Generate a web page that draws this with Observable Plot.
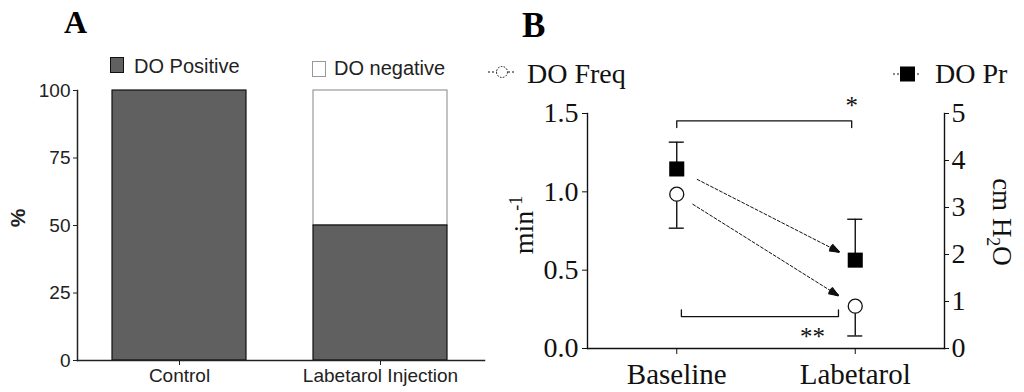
<!DOCTYPE html>
<html><head><meta charset="utf-8">
<script src="https://cdn.jsdelivr.net/npm/d3@7"></script>
<script src="https://cdn.jsdelivr.net/npm/@observablehq/plot@0.6"></script>
<style>
body{margin:0;background:#fff;}
#wrap{position:relative;width:1024px;height:392px;overflow:hidden;background:#fff;}
#wrap > *{position:absolute;top:0;}
</style></head><body><div id="wrap"></div>
<script>
// ---------- Panel A data ----------
const categoriesA = ["Control", "Labetarol Injection"];
const positivePct = [100, 50];
const negativePct = [0, 50];
const ticksA = [0, 25, 50, 75, 100];

// ---------- Panel B data ----------
const categoriesB = ["Baseline", "Labetarol"];
const freqMean = [0.985, 0.27];   // min^-1 (left axis)
const freqSem  = [0.217, 0.19];
const prMean   = [3.82, 1.88];    // cm H2O (right axis)
const prSem    = [0.57, 0.87];
const ticksFreq = [0, 0.5, 1.0, 1.5];
const ticksPr   = [0, 1, 2, 3, 4, 5];
// significance annotations (x in category index, y in min^-1 units)
const bracketTopPts = [[0, 1.41], [0, 1.453], [0.98, 1.453], [0.98, 1.41]];
const bracketBotPts = [[0.026, 0.247], [0.026, 0.204], [0.906, 0.204], [0.906, 0.247]];
const starLabels = [{x: 0.98, y: 1.581, t: "*"}, {x: 0.76, y: 0.107, t: "**"}];

const wrap = document.getElementById("wrap");
const ink = "#111";

// ---------- Panel A ----------
const rowsA = categoriesA.map((c, i) => ({c, pos: positivePct[i], neg: negativePct[i]}));
const plotA = Plot.plot({
  width: 490, height: 392,
  marginLeft: 77, marginRight: 6, marginTop: 90, marginBottom: 32,
  style: {background: "transparent", fontFamily: "'Liberation Sans', Arial, sans-serif", color: "#222"},
  x: {domain: categoriesA, paddingInner: 0.3333, paddingOuter: 0.1766, align: 0.493},
  y: {domain: [0, 100]},
  marks: [
    Plot.barY(rowsA.filter(d => d.neg > 0), {x: "c", y1: "pos", y2: d => d.pos + d.neg, fill: "white", stroke: "#999", strokeWidth: 1.2}),
    Plot.barY(rowsA, {x: "c", y1: 0, y2: "pos", fill: "#606060", stroke: ink, strokeWidth: 1.2}),
    Plot.frame({anchor: "left", stroke: "#222", strokeWidth: 1.5}),
    Plot.frame({anchor: "bottom", stroke: "#222", strokeWidth: 1.5}),
    Plot.axisY({ticks: ticksA, tickSize: 4, tickPadding: 3, fontSize: 19, label: null, stroke: "#222"}),
    Plot.axisX({tickSize: 5, tickPadding: 3, fontSize: 19, label: null, stroke: "#222"})
  ]
});
plotA.style.left = "0px";
wrap.appendChild(plotA);

// ---------- Panel B ----------
const PR_TO_FREQ = 1.5 / 5;
const rowsB = categoriesB.map((c, i) => ({
  i, c,
  f: freqMean[i], fLo: freqMean[i] - freqSem[i],
  p: prMean[i] * PR_TO_FREQ, pHi: (prMean[i] + prSem[i]) * PR_TO_FREQ
}));
const cap = 0.042;
const arrowPr = [{x1: 0, y1: rowsB[0].p, x2: 1, y2: rowsB[1].p}];
const arrowFreq = [{x1: 0, y1: rowsB[0].f, x2: 1, y2: rowsB[1].f}];
// filled-looking arrowheads: several solid heads with narrowing angles
const headAngles = [42, 32, 22, 12, 3];
const heads = (data, insetStart, insetEnd) => headAngles.map(a =>
  Plot.arrow(data, {x1: "x1", y1: "y1", x2: "x2", y2: "y2", insetStart, insetEnd,
    headLength: 11, headAngle: a, stroke: ink, strokeWidth: 1.4, strokeLinecap: "butt"}));

const plotB = Plot.plot({
  width: 544, height: 392,
  marginLeft: 107, marginRight: 80, marginTop: 113, marginBottom: 44,
  style: {background: "transparent", fontFamily: "'Liberation Serif', 'Times New Roman', serif", color: ink},
  x: {type: "linear", domain: [-0.5, 1.5]},
  y: {domain: [0, 1.5]},
  marks: [
    Plot.frame({anchor: "left", stroke: ink, strokeWidth: 1.4}),
    Plot.frame({anchor: "right", stroke: ink, strokeWidth: 1.4}),
    Plot.frame({anchor: "bottom", stroke: ink, strokeWidth: 1.4}),
    Plot.axisY({anchor: "left", ticks: ticksFreq, tickSize: 5, tickPadding: 4, fontSize: 28, tickFormat: d3.format(".1f"), label: null}),
    Plot.axisY({anchor: "right", ticks: ticksPr.map(v => v * PR_TO_FREQ), tickSize: 4, tickPadding: 3, fontSize: 28, tickFormat: v => Math.round(v / PR_TO_FREQ), label: null}),
    Plot.axisX({anchor: "bottom", ticks: categoriesB.map((c, i) => i), tickSize: 6, tickPadding: 9, fontSize: 29, tickFormat: i => categoriesB[i], label: null}),
    // brackets
    Plot.line(bracketTopPts, {x: d => d[0], y: d => d[1], stroke: ink, strokeWidth: 1.3}),
    Plot.line(bracketBotPts, {x: d => d[0], y: d => d[1], stroke: ink, strokeWidth: 1.3}),
    Plot.text(starLabels, {x: "x", y: "y", text: "t", fontSize: 25, dy: 5, fill: ink}),
    // error bars
    Plot.ruleX(rowsB, {x: "i", y1: "fLo", y2: "f", stroke: ink, strokeWidth: 1.4}),
    Plot.ruleY(rowsB, {y: "fLo", x1: d => d.i - cap, x2: d => d.i + cap, stroke: ink, strokeWidth: 1.4}),
    Plot.ruleX(rowsB, {x: "i", y1: "p", y2: "pHi", stroke: ink, strokeWidth: 1.4}),
    Plot.ruleY(rowsB, {y: "pHi", x1: d => d.i - cap, x2: d => d.i + cap, stroke: ink, strokeWidth: 1.4}),
    // dashed arrows (shaft) + solid heads
    Plot.arrow(arrowPr, {x1: "x1", y1: "y1", x2: "x2", y2: "y2", insetStart: 23, insetEnd: 26, headLength: 0, stroke: ink, strokeWidth: 1, strokeDasharray: "3,2"}),
    Plot.arrow(arrowFreq, {x1: "x1", y1: "y1", x2: "x2", y2: "y2", insetStart: 19, insetEnd: 28, headLength: 0, stroke: ink, strokeWidth: 1, strokeDasharray: "3,2"}),
    ...heads(arrowPr, 174, 18),
    ...heads(arrowFreq, 183, 20),
    // markers
    Plot.dot(rowsB, {x: "i", y: "f", r: 7, fill: "white", stroke: ink, strokeWidth: 1.3}),
    Plot.dot(rowsB, {x: "i", y: "p", symbol: "square", r: 8.5, fill: "#000"})
  ]
});
plotB.style.left = "480px";
wrap.appendChild(plotB);

// ---------- titles, legends, axis labels ----------
const ns = "http://www.w3.org/2000/svg";
const ov = document.createElementNS(ns, "svg");
ov.setAttribute("width", 1024); ov.setAttribute("height", 392);
ov.style.left = "0px"; ov.style.pointerEvents = "none";
ov.innerHTML = `
<g font-family="'Liberation Serif','Times New Roman',serif" font-weight="bold" fill="#000">
  <text x="64" y="33" font-size="32">A</text>
  <text x="522" y="37" font-size="35">B</text>
</g>
<g font-family="'Liberation Sans',Arial,sans-serif" fill="#222" font-size="20">
  <rect x="110.5" y="57.5" width="13" height="15" fill="#606060" stroke="#111"/>
  <text x="134" y="73">DO Positive</text>
  <rect x="312.5" y="61.5" width="13" height="15" fill="#fff" stroke="#999"/>
  <text x="334" y="75">DO negative</text>
  <text transform="translate(25,218) rotate(-90)" text-anchor="middle" font-weight="bold" font-size="21">%</text>
</g>
<g font-family="'Liberation Serif','Times New Roman',serif" fill="#111" font-size="28">
  <line x1="488" x2="516" y1="72" y2="72" stroke="#111" stroke-dasharray="2,2"/>
  <circle cx="502" cy="72" r="5.5" fill="#fff" stroke="#111" stroke-dasharray="1.6,1.4"/>
  <text x="527" y="83">DO Freq</text>
  <line x1="893" x2="921" y1="74" y2="74" stroke="#111" stroke-dasharray="2,2"/>
  <rect x="900" y="66.5" width="15" height="15" fill="#000"/>
  <text x="935" y="83">DO Pr</text>
  <text transform="translate(533,225) rotate(-90)" text-anchor="middle">min<tspan dy="-11" font-size="18">-1</tspan></text>
  <text transform="translate(993,222) rotate(90)" text-anchor="middle" font-size="27">cm H<tspan dy="6" font-size="18">2</tspan><tspan dy="-6">O</tspan></text>
</g>`;
wrap.appendChild(ov);
</script></body></html>
